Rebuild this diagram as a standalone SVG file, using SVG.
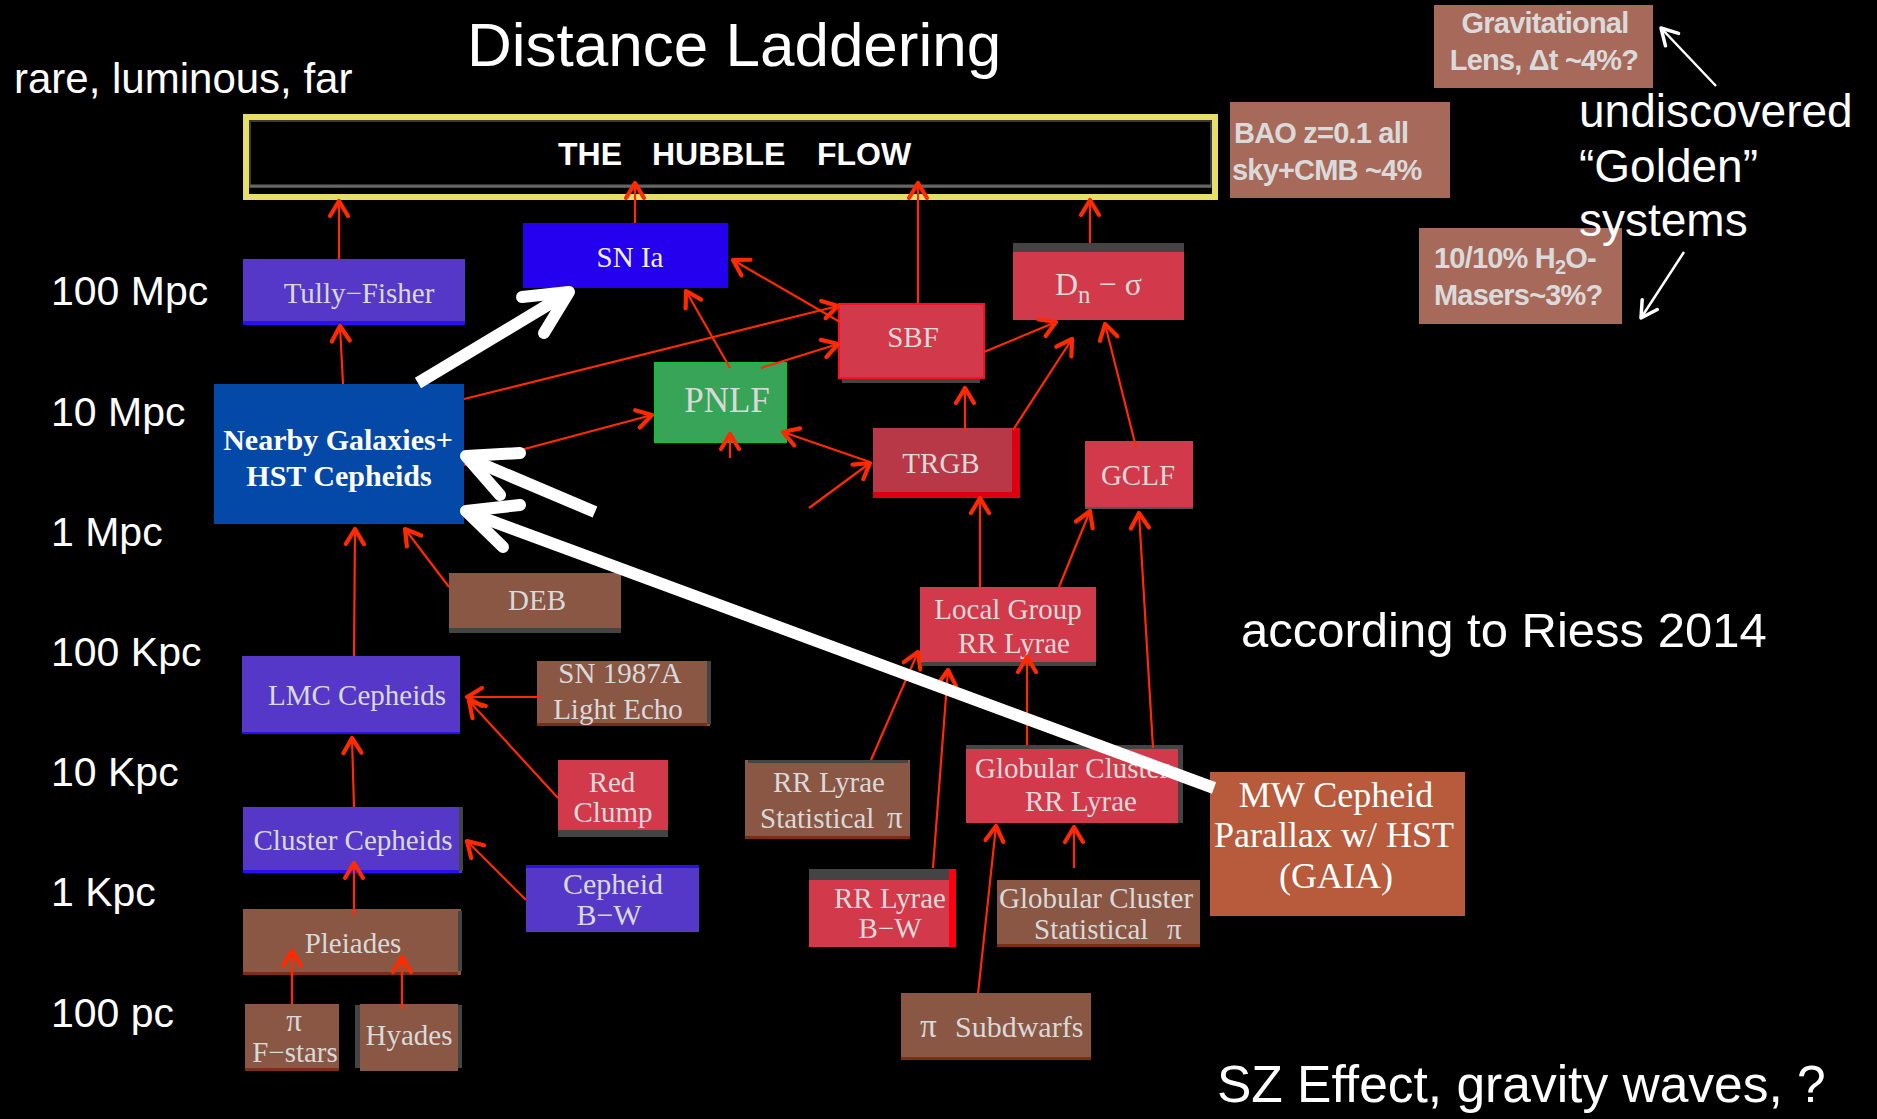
<svg xmlns="http://www.w3.org/2000/svg" width="1877" height="1119" viewBox="0 0 1877 1119">
<defs>
<style>
.bg{fill:#000}
.sans{font-family:"Liberation Sans",Arial,sans-serif;fill:#fff}
.ax{font-family:"Liberation Sans",Arial,sans-serif;fill:#fff;font-size:41px}
.nt{font-family:"Liberation Serif","Times New Roman",serif;fill:#d9d9d9;font-size:29px;text-anchor:middle}
.pi{font-size:31px}
.rb{font-family:"Liberation Sans",Arial,sans-serif;fill:#dadada;font-size:29px;font-weight:bold;letter-spacing:-0.8px}
.purple{fill:#5538c8}
.brown{fill:#8a5744}
.red{fill:#d23a4c}
.rbox{fill:#a76a5a}
.gray{fill:#444}
.edge{stroke:#ff2a00;stroke-width:2.2;fill:none;marker-end:url(#ah)}
.warr{stroke:#fff;stroke-width:12;fill:none;stroke-linejoin:round}
.wthin{stroke:#fff;stroke-width:2.5;fill:none;marker-end:url(#wh)}
</style>
<marker id="ah" markerUnits="userSpaceOnUse" markerWidth="24" markerHeight="24" viewBox="0 0 24 24" refX="20" refY="12" orient="auto">
<path d="M5,3 L20,12 L5,21" fill="none" stroke="#ff2a00" stroke-width="4.2" stroke-linecap="round" stroke-linejoin="round"/>
</marker>
<marker id="wh" markerUnits="userSpaceOnUse" markerWidth="26" markerHeight="26" viewBox="0 0 26 26" refX="22" refY="13" orient="auto">
<path d="M6,4 L22,13 L6,22" fill="none" stroke="#fff" stroke-width="3.5" stroke-linecap="round" stroke-linejoin="round"/>
</marker>
</defs>
<rect class="bg" x="0" y="0" width="1877" height="1119"/>

<!-- titles and labels -->
<text class="sans" x="467" y="66" font-size="62">Distance Laddering</text>
<text class="sans" x="14" y="93" font-size="42">rare, luminous, far</text>
<g id="axis">
<text class="ax" x="51" y="305">100 Mpc</text>
<text class="ax" x="51" y="426">10 Mpc</text>
<text class="ax" x="51" y="546">1 Mpc</text>
<text class="ax" x="51" y="666">100 Kpc</text>
<text class="ax" x="51" y="786">10 Kpc</text>
<text class="ax" x="51" y="906">1 Kpc</text>
<text class="ax" x="51" y="1027">100 pc</text>
</g>
<text class="sans" x="1241" y="647" font-size="49">according to Riess 2014</text>
<text class="sans" x="1217" y="1102" font-size="51.5">SZ Effect, gravity waves, ?</text>

<!-- Hubble flow -->
<g id="hubble">
<rect x="246" y="117" width="969" height="80" fill="#000" stroke="#e6de68" stroke-width="6"/>
<rect x="250" y="121" width="961" height="66" fill="none" stroke="#3a3a3a" stroke-width="2"/>
<line x1="250" y1="186" x2="1211" y2="186" stroke="#666" stroke-width="3"/>
<text class="sans" x="558" y="165" font-size="32" font-weight="bold">THE</text>
<text class="sans" x="652" y="165" font-size="32" font-weight="bold">HUBBLE</text>
<text class="sans" x="817" y="165" font-size="32" font-weight="bold">FLOW</text>
</g>

<!-- right-hand boxes -->
<g id="gravlens">
<rect class="rbox" x="1434" y="5" width="219" height="83"/>
<text class="rb" x="1545" y="33" text-anchor="middle">Gravitational</text>
<text class="rb" x="1544" y="70" text-anchor="middle">Lens, Δt ~4%?</text>
</g>
<g id="bao">
<rect class="rbox" x="1230" y="102" width="220" height="96"/>
<text class="rb" x="1234" y="143">BAO z=0.1 all</text>
<text class="rb" x="1232" y="180">sky+CMB ~4%</text>
</g>
<g id="masers">
<rect class="rbox" x="1419" y="228" width="203" height="96"/>
<text class="rb" x="1434" y="268">10/10% H<tspan font-size="20" dy="6">2</tspan><tspan dy="-6">O-</tspan></text>
<text class="rb" x="1434" y="305">Masers~3%?</text>
</g>
<g id="golden">
<text class="sans" x="1579" y="127" font-size="46">undiscovered</text>
<text class="sans" x="1579" y="182" font-size="46">“Golden”</text>
<text class="sans" x="1579" y="236" font-size="46">systems</text>
</g>

<!-- nodes -->
<g id="tully">
<rect class="purple" x="243" y="259" width="222" height="66"/>
<rect x="243" y="321" width="222" height="4" fill="#2a10f0"/>
<text class="nt" x="359" y="303">Tully−Fisher</text>
</g>
<g id="snia">
<rect x="523" y="223" width="205" height="65" fill="#2400ee"/>
<text class="nt" x="630" y="267" style="fill:#f0f0f0">SN Ia</text>
</g>
<g id="nearby">
<rect x="214" y="384" width="250" height="140" fill="#0448a8"/>
<text class="nt" x="338" y="450" font-weight="bold" style="fill:#fff;font-size:30px">Nearby Galaxies+</text>
<text class="nt" x="339" y="486" font-weight="bold" style="fill:#fff;font-size:30px">HST Cepheids</text>
</g>
<g id="pnlf">
<rect x="655" y="363" width="131" height="79" fill="#38a458" stroke="#10c030" stroke-width="2"/>
<text class="nt" x="727" y="412" style="font-size:35px">PNLF</text>
</g>
<g id="sbf">
<rect x="842" y="377" width="138" height="6" class="gray"/>
<rect class="red" x="839" y="304" width="145" height="74" stroke="#ff1020" stroke-width="2"/>
<text class="nt" x="913" y="347">SBF</text>
</g>
<g id="dnsigma">
<rect class="red" x="1013" y="243" width="171" height="77"/>
<rect class="gray" x="1013" y="243" width="171" height="9"/>
<text class="nt" x="1055" y="295" style="font-size:32px;text-anchor:start">D<tspan font-size="25" dy="8">n</tspan><tspan dy="-8"> − σ</tspan></text>
</g>
<g id="trgb">
<rect x="873" y="428" width="147" height="70" fill="#dd0010"/>
<rect x="873" y="428" width="139" height="64" fill="#b83848"/>
<text class="nt" x="941" y="473">TRGB</text>
</g>
<g id="gclf">
<rect class="red" x="1085" y="441" width="108" height="68"/>
<rect x="1085" y="507" width="108" height="2" fill="#555"/>
<text class="nt" x="1138" y="485">GCLF</text>
</g>
<g id="deb">
<rect class="brown" x="449" y="573" width="172" height="56"/>
<rect class="gray" x="449" y="628" width="172" height="5"/>
<text class="nt" x="537" y="610">DEB</text>
</g>
<g id="lmc">
<rect class="purple" x="242" y="656" width="218" height="78"/>
<rect x="242" y="732" width="218" height="2" fill="#2a10f0"/>
<text class="nt" x="357" y="705">LMC Cepheids</text>
</g>
<g id="sn1987a">
<rect class="brown" x="537" y="661" width="173" height="65"/>
<rect class="gray" x="707" y="661" width="4" height="63"/>
<rect x="537" y="723" width="170" height="3" fill="#7a3010"/>
<text class="nt" x="620" y="683">SN 1987A</text>
<text class="nt" x="618" y="719">Light Echo</text>
</g>
<g id="redclump">
<rect class="red" x="558" y="760" width="110" height="71"/>
<rect class="gray" x="558" y="830" width="110" height="7"/>
<text class="nt" x="612" y="792">Red</text>
<text class="nt" x="613" y="822">Clump</text>
</g>
<g id="cluster">
<rect class="purple" x="243" y="807" width="219" height="66"/>
<rect class="gray" x="459" y="807" width="4" height="64"/>
<rect x="243" y="870" width="216" height="3" fill="#2a10f0"/>
<text class="nt" x="353" y="850">Cluster Cepheids</text>
</g>
<g id="cepheidbw">
<rect class="purple" x="526" y="865" width="173" height="67"/>
<rect x="526" y="865" width="173" height="3" fill="#2a10f0"/>
<text class="nt" x="613" y="894" style="font-size:30px">Cepheid</text>
<text class="nt" x="609" y="925" style="font-size:30px">B−W</text>
</g>
<g id="pleiades">
<rect class="brown" x="243" y="909" width="218" height="66"/>
<rect class="gray" x="458" y="911" width="4" height="60"/>
<rect x="243" y="972" width="215" height="3" fill="#7a3010"/>
<text class="nt" x="353" y="953">Pleiades</text>
</g>
<g id="fstars">
<rect class="brown" x="245" y="1004" width="94" height="67"/>
<rect x="245" y="1068" width="94" height="3" fill="#7a3010"/>
<text class="nt pi" x="294" y="1031">π</text>
<text class="nt" x="295" y="1062">F−stars</text>
</g>
<g id="hyades">
<rect class="gray" x="355" y="1005" width="107" height="63"/>
<rect class="brown" x="360" y="1004" width="98" height="67"/>
<text class="nt" x="409" y="1045">Hyades</text>
</g>
<g id="localgroup">
<rect class="red" x="920" y="587" width="176" height="76"/>
<rect class="gray" x="922" y="662" width="174" height="4"/>
<text class="nt" x="1008" y="619">Local Group</text>
<text class="nt" x="1014" y="653">RR Lyrae</text>
</g>
<g id="rrstat">
<rect class="brown" x="745" y="760" width="165" height="79"/>
<rect class="gray" x="748" y="760" width="160" height="3"/>
<rect x="745" y="836" width="165" height="3" fill="#7a3010"/>
<text class="nt" x="829" y="792">RR Lyrae</text>
<text class="nt" x="760" y="828" style="text-anchor:start">Statistical<tspan class="pi" x="887">π</tspan></text>
</g>
<g id="gcrr">
<rect class="gray" x="966" y="745" width="217" height="78"/>
<rect class="red" x="966" y="749" width="212" height="74"/>
<text class="nt" x="975" y="778" style="text-anchor:start">Globular Cluster</text>
<text class="nt" x="1081" y="811">RR Lyrae</text>
</g>
<g id="mwcepheid">
<rect x="1210" y="772" width="255" height="144" fill="#b85a3c"/>
<text class="nt" x="1336" y="807" style="fill:#fff;font-size:36px">MW Cepheid</text>
<text class="nt" x="1334" y="847" style="fill:#fff;font-size:36px">Parallax w/ HST</text>
<text class="nt" x="1336" y="888" style="fill:#fff;font-size:36px">(GAIA)</text>
</g>
<g id="rrbw">
<rect x="809" y="869" width="147" height="78" fill="#ff0010"/>
<rect class="red" x="809" y="869" width="140" height="78"/>
<rect class="gray" x="809" y="869" width="140" height="11"/>
<text class="nt" x="890" y="908">RR Lyrae</text>
<text class="nt" x="890" y="938">B−W</text>
</g>
<g id="gcstat">
<rect class="brown" x="997" y="880" width="203" height="67"/>
<rect x="997" y="944" width="203" height="3" fill="#7a3010"/>
<text class="nt" x="1096" y="908">Globular Cluster</text>
<text class="nt" x="1034" y="939" style="text-anchor:start">Statistical<tspan x="1167">π</tspan></text>
</g>
<g id="subdwarfs">
<rect class="brown" x="901" y="993" width="190" height="67"/>
<rect x="901" y="1057" width="190" height="3" fill="#7a3010"/>
<text class="nt" x="920" y="1037" style="font-size:30px;text-anchor:start"><tspan style="font-size:33px">π</tspan><tspan x="955">Subdwarfs</tspan></text>
</g>

<!-- red connectors -->
<g id="connectors">
<line class="edge" x1="343" y1="384" x2="340" y2="326"/>
<line class="edge" x1="339" y1="259" x2="339" y2="201"/>
<line class="edge" x1="635" y1="223" x2="635" y2="183"/>
<line class="edge" x1="918" y1="304" x2="918" y2="183"/>
<line class="edge" x1="1090" y1="243" x2="1090" y2="200"/>
<line class="edge" x1="464" y1="399" x2="838" y2="306"/>
<line class="edge" x1="840" y1="322" x2="733" y2="260"/>
<line class="edge" x1="761" y1="368" x2="838" y2="344"/>
<line class="edge" x1="730" y1="368" x2="686" y2="291"/>
<line class="edge" x1="464" y1="465" x2="652" y2="415"/>
<line class="edge" x1="730" y1="458" x2="730" y2="434"/>
<line class="edge" x1="870" y1="462" x2="783" y2="432"/>
<line class="edge" x1="809" y1="508" x2="870" y2="463"/>
<line class="edge" x1="965" y1="430" x2="965" y2="388"/>
<line class="edge" x1="1013" y1="430" x2="1072" y2="339"/>
<line class="edge" x1="984" y1="352" x2="1056" y2="322"/>
<line class="edge" x1="1136" y1="447" x2="1105" y2="324"/>
<line class="edge" x1="980" y1="587" x2="980" y2="498"/>
<line class="edge" x1="1059" y1="587" x2="1090" y2="511"/>
<line class="edge" x1="1153" y1="748" x2="1139" y2="513"/>
<line class="edge" x1="1027" y1="745" x2="1027" y2="657"/>
<line class="edge" x1="871" y1="760" x2="918" y2="652"/>
<line class="edge" x1="933" y1="868" x2="948" y2="670"/>
<line class="edge" x1="978" y1="994" x2="996" y2="826"/>
<line class="edge" x1="1074" y1="868" x2="1074" y2="827"/>
<line class="edge" x1="449" y1="587" x2="405" y2="529"/>
<line class="edge" x1="354" y1="656" x2="355" y2="529"/>
<line class="edge" x1="541" y1="697" x2="467" y2="697"/>
<line class="edge" x1="558" y1="798" x2="469" y2="701"/>
<line class="edge" x1="354" y1="807" x2="352" y2="738"/>
<line class="edge" x1="526" y1="900" x2="467" y2="841"/>
<line class="edge" x1="354" y1="915" x2="354" y2="863"/>
<line class="edge" x1="292" y1="1004" x2="292" y2="951"/>
<line class="edge" x1="402" y1="1009" x2="402" y2="957"/>
</g>

<!-- white arrows -->
<g id="white-arrows">
<line class="warr" x1="418" y1="383" x2="566" y2="294"/>
<polyline class="warr" points="522,297 569,292 544,333" stroke-linecap="round"/>
<line class="warr" x1="595" y1="512" x2="470" y2="459"/>
<polyline class="warr" points="520,453 466,456 500,495" stroke-linecap="round"/>
<line class="warr" x1="1214" y1="788" x2="470" y2="513"/>
<polyline class="warr" points="520,505 466,511 503,547" stroke-linecap="round"/>
<line class="wthin" x1="1716" y1="86" x2="1661" y2="28"/>
<line class="wthin" x1="1684" y1="252" x2="1641" y2="318"/>
</g>
</svg>
